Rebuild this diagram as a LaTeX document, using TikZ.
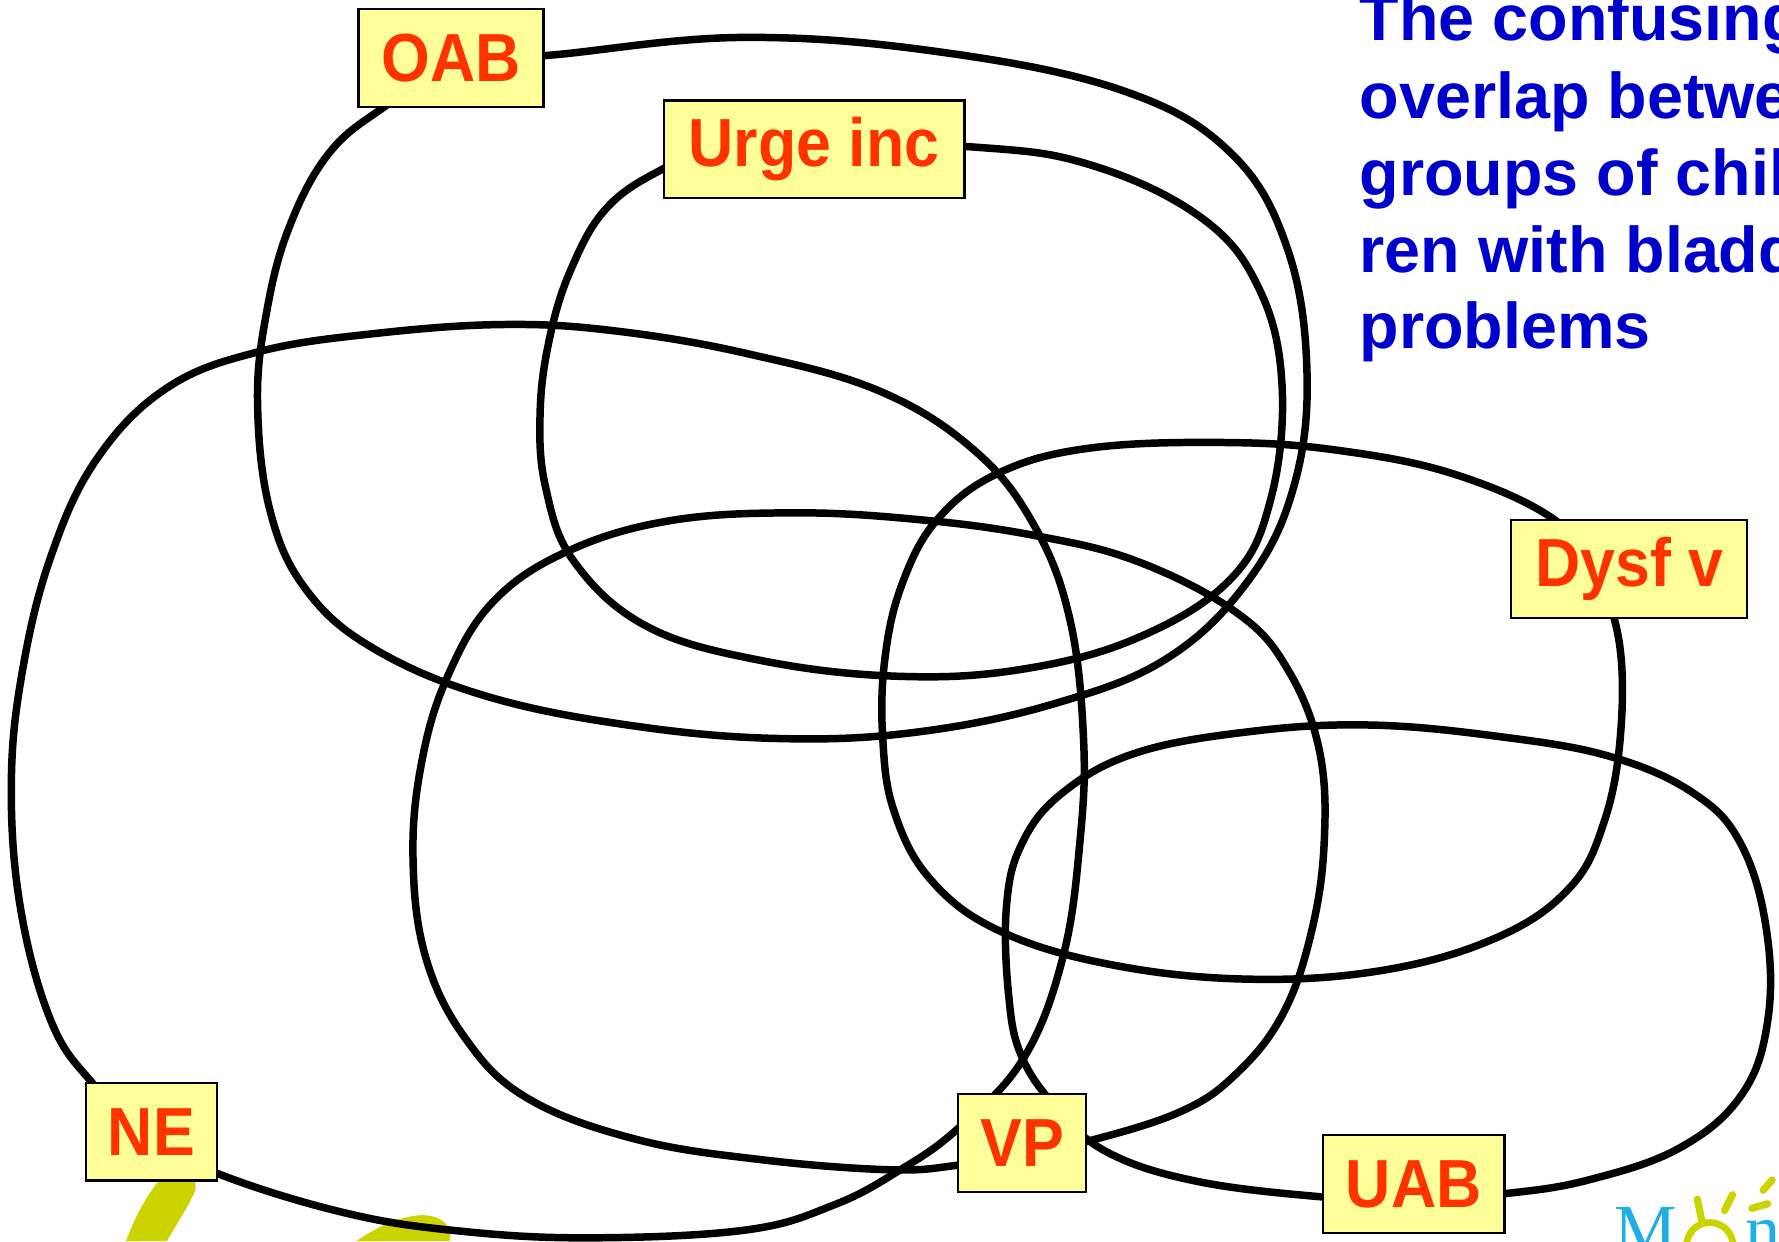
\documentclass[tikz,border=0pt]{standalone}
\usepackage{fontspec}
\setmainfont{Liberation Sans}
\newfontfamily\logofont{Liberation Serif}
\definecolor{boxfill}{HTML}{FFFF99}
\definecolor{labelred}{HTML}{FF3300}
\definecolor{titleblue}{HTML}{0000CC}
\definecolor{logogreen}{HTML}{CCD400}
\definecolor{logocyan}{HTML}{1EAFE6}
\newcommand{\narrow}[1]{\scalebox{0.92}[1]{#1}}
\tikzset{
  loopline/.style={line width=3.3pt, draw=black},
  grouplabel/.style={draw=black, line width=1pt, fill=boxfill, text=labelred,
    font=\bfseries\fontsize{30}{36}\selectfont, inner sep=0pt, minimum height=43pt},
  titleline/.style={anchor=base west, text=titleblue, inner sep=0pt,
    font=\bfseries\fontsize{28.5}{34}\selectfont},
  logotext/.style={anchor=base west, inner sep=0pt, text=logocyan,
    font=\logofont\fontsize{31}{36}\selectfont},
  ray/.style={logogreen, line width=3.2pt, line cap=round}
}
\begin{document}
\begin{tikzpicture}[x=0.5pt, y=-0.5pt]
\path[use as bounding box] (0,0) rectangle (1568,1094);
\clip (0,0) rectangle (1568,1094);
\fill[white] (0,0) rectangle (1568,1094);

% logo fragments in the lower corners
\fill[logogreen] (111,1094) .. controls (120,1070) and (130,1052) .. (144,1036)
  .. controls (152,1028) and (176,1030) .. (172,1050)
  .. controls (165,1065) and (155,1080) .. (147,1094) -- cycle;
\fill[logogreen] (314,1094) .. controls (330,1083) and (350,1072) .. (372,1071)
  .. controls (392,1071) and (400,1084) .. (396,1094) -- cycle;
\node[logotext] (logoM) at (1423,1104.5) {M};
\node[logotext] (logoN) at (1538,1104.5) {n};
\draw[logogreen, line width=3pt] (1507,1098) circle[radius=10.25pt];
\draw[ray] (1496,1057) -- (1500,1076);
\draw[ray] (1527,1053) -- (1520,1067);
\draw[ray] (1558,1061) -- (1544,1065);
\draw[ray] (1562,1040) -- (1554,1049);

% OAB
\draw[loopline] plot[smooth cycle, tension=0.65] coordinates {
  (480,49) (653,33) (830,46) (990,80) (1085,135) (1135,220) (1152,330) (1140,430)
  (1100,512) (1029,580) (930,620) (810,645) (690,651) (560,640) (430,614) (330,572)
  (270,520) (238,450) (227,355) (235,275) (255,200) (290,135) (339,94) (410,50)};
% Urge inc
\draw[loopline] plot[smooth cycle, tension=0.65] coordinates {
  (850,129) (960,145) (1059,192) (1110,255) (1130,340) (1120,440) (1085,510)
  (1003,562) (900,590) (790,596) (670,582) (570,552) (506,495) (481,430) (476,365)
  (484,300) (503,238) (535,183) (586,148) (650,122)};
% NE
\draw[loopline] plot[smooth cycle, tension=0.65] coordinates {
  (191,1034) (304,1069) (405,1085) (520,1091) (658,1084) (735,1062) (792,1032)
  (844,995) (902,933) (937,843) (952,740) (955,651) (943,546) (912,464) (860,398)
  (776,345) (660,312) (545,292) (445,286) (330,294) (228,310) (147,342) (85,405)
  (45,490) (20,590) (10,690) (18,800) (45,900) (81,954) (130,1000)};
% Dysf v
\draw[loopline] plot[smooth cycle, tension=0.65] coordinates {
  (1370,458) (1282,418) (1180,397) (1079,390) (960,395) (880,417) (826,458)
  (795,515) (780,580) (778,650) (788,715) (820,775) (880,820) (978,850) (1100,863)
  (1220,855) (1320,826) (1383,783) (1413,727) (1428,651) (1427,565) (1405,505)};
% VP
\draw[loopline] plot[smooth cycle, tension=0.65] coordinates {
  (958,1006) (1040,980) (1089,947) (1130,895) (1155,825) (1167,745) (1163,662)
  (1135,590) (1090,540) (1003,495) (912,472) (810,458) (700,452) (590,459)
  (500,486) (435,530) (395,595) (372,670) (364,755) (375,843) (410,915) (465,968)
  (560,1004) (670,1022) (784,1031) (844,1027) (900,1017)};
% UAB
\draw[loopline] plot[smooth cycle, tension=0.65] coordinates {
  (1166,1055) (1054,1041) (975,1015) (930,975) (900,930) (889,877) (887,800)
  (900,745) (935,700) (1000,664) (1100,645) (1206,639) (1320,649) (1420,667)
  (1494,700) (1535,745) (1557,820) (1558,900) (1535,965) (1480,1012) (1400,1040)
  (1327,1052) (1245,1058)};

% group labels
\node[grouplabel, minimum width=81.5pt] (oab) at (397.5,51) {\narrow{OAB}};
\node[grouplabel, minimum width=132.5pt] (urge) at (717.5,131.5) {\narrow{Urge inc}};
\node[grouplabel, minimum width=104pt] (dysf) at (1436,501.5) {\narrow{Dysf v}};
\node[grouplabel, minimum width=57.5pt] (ne) at (133.5,997.5) {\narrow{NE}};
\node[grouplabel, minimum width=56.5pt] (vp) at (901,1007.5) {\narrow{VP}};
\node[grouplabel, minimum width=80pt] (uab) at (1246,1043.5) {\narrow{UAB}};

% heading
\node[titleline] (t1) at (1198,36) {The confusing};
\node[titleline] (t2) at (1198,104) {overlap between};
\node[titleline] (t3) at (1198,172) {groups of child-};
\node[titleline] (t4) at (1198,240) {ren with bladder};
\node[titleline] (t5) at (1198,307) {problems};
\end{tikzpicture}
\end{document}
